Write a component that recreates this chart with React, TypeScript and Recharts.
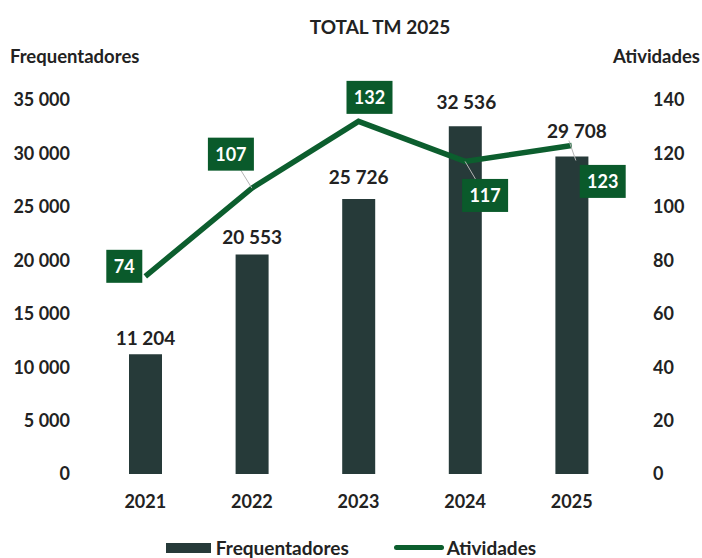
import React from 'react';
import { ComposedChart, Bar, Line, XAxis, YAxis, LabelList, Legend } from 'recharts';

const years = ['2021', '2022', '2023', '2024', '2025'];
const frequentadores = [11204, 20553, 25726, 32536, 29708];
const atividades = [74, 107, 132, 117, 123];
const leftTicks = [0, 5000, 10000, 15000, 20000, 25000, 30000, 35000];
const rightTicks = [0, 20, 40, 60, 80, 100, 120, 140];

const BAR_COLOR = '#263a39';
const LINE_COLOR = '#0c5e2e';
const BOX_COLOR = '#0a5a2b';
const FONT = 'Lato, "Open Sans", sans-serif';

// label placement tweaks, per point (dx, dy from the data point)
const lineLabelOffsets = [[-21, -10], [-21, -34], [11, -24], [20, 34], [31, 36]];
const lineLeader = [false, true, false, true, false];
const barLabelOffsets = [[0, -17], [0, -18], [0, -23], [1, -25], [5, -26]];

const data = years.map((year, i) => ({
  year,
  frequentadores: frequentadores[i],
  atividades: atividades[i],
}));

const fmt = (v: number) => String(v).replace(/\B(?=(\d{3})+(?!\d))/g, ' ');

const LineLabel = (props: any) => {
  const { x, y, value, index } = props;
  const [dx, dy] = lineLabelOffsets[index];
  const cx = x + dx;
  const cy = y + dy;
  const w = value >= 100 ? 46 : 36;
  const h = 33;
  return (
    <g>
      {lineLeader[index] && <line x1={x} y1={y} x2={cx} y2={cy} stroke="#b5b5b5" strokeWidth={1} />}
      <rect x={cx - w / 2} y={cy - h / 2} width={w} height={h} fill={BOX_COLOR} />
      <text x={cx} y={cy} textAnchor="middle" dominantBaseline="central" fill="#fff"
        fontFamily={FONT} fontWeight={700} fontSize={18}>
        {value}
      </text>
    </g>
  );
};

const BarLabel = (props: any) => {
  const { x, y, width, value, index } = props;
  const [dx, dy] = barLabelOffsets[index];
  const cx = x + width / 2 + dx;
  const cy = y + dy;
  return (
    <g>
      {index === 4 && <line x1={cx - 8} y1={cy + 10} x2={x + width / 2 + 4} y2={y + 4} stroke="#b5b5b5" strokeWidth={1} />}
      <text x={cx} y={cy} textAnchor="middle" dominantBaseline="central" fill="#222"
        fontFamily={FONT} fontWeight={700} fontSize={19}>
        {fmt(value)}
      </text>
    </g>
  );
};

const LegendContent = () => (
  <div style={{ display: 'flex', justifyContent: 'center', alignItems: 'center', fontFamily: FONT, fontWeight: 700, fontSize: 19, color: '#222' }}>
    <span style={{ display: 'inline-block', width: 45, height: 10, background: BAR_COLOR, marginRight: 5 }} />
    <span>Frequentadores</span>
    <span style={{ display: 'inline-block', width: 50, height: 5, background: LINE_COLOR, marginLeft: 45, marginRight: 3, borderRadius: 3 }} />
    <span>Atividades</span>
  </div>
);

const tickStyle = { fontFamily: FONT, fontWeight: 700, fontSize: 18, fill: '#222' };

export default function App() {
  return (
    <div style={{ position: 'absolute', left: 0, top: 0, width: 702, height: 558, background: '#fff', fontFamily: FONT }}>
      <div style={{ position: 'absolute', left: 0, width: 760, top: 15, textAlign: 'center', fontWeight: 700, fontSize: 19, color: '#222' }}>
        TOTAL TM 2025
      </div>
      <div style={{ position: 'absolute', left: 10, top: 45, fontWeight: 700, fontSize: 18.5, color: '#222' }}>
        Frequentadores
      </div>
      <div style={{ position: 'absolute', right: 2, top: 45, fontWeight: 700, fontSize: 18.5, color: '#222' }}>
        Atividades
      </div>
      <ComposedChart width={702} height={558} data={data} margin={{ top: 100, right: 0, bottom: 44, left: 0 }}>
        <XAxis dataKey="year" axisLine={false} tickLine={false} tickSize={0} tickMargin={21} height={40} tick={tickStyle} />
        <YAxis yAxisId="left" orientation="left" domain={[0, 35000]} ticks={leftTicks} width={92}
          axisLine={false} tickLine={false} tickSize={0} tickMargin={22} tickFormatter={fmt} tick={tickStyle} />
        <YAxis yAxisId="right" orientation="right" domain={[0, 140]} ticks={rightTicks} width={77}
          axisLine={false} tickLine={false} tickSize={0} tickMargin={28} tick={tickStyle} />
        <Bar yAxisId="left" dataKey="frequentadores" name="Frequentadores" fill={BAR_COLOR} barSize={33} isAnimationActive={false}>
          <LabelList dataKey="frequentadores" content={<BarLabel />} />
        </Bar>
        <Line yAxisId="right" dataKey="atividades" name="Atividades" type="linear" stroke={LINE_COLOR} strokeWidth={5.5}
          dot={false} activeDot={false} isAnimationActive={false}>
          <LabelList dataKey="atividades" content={<LineLabel />} />
        </Line>
        <Legend layout="horizontal" verticalAlign="middle" content={<LegendContent />}
          wrapperStyle={{ top: 536, left: 0, width: 702, height: 24 }} />
      </ComposedChart>
    </div>
  );
}
